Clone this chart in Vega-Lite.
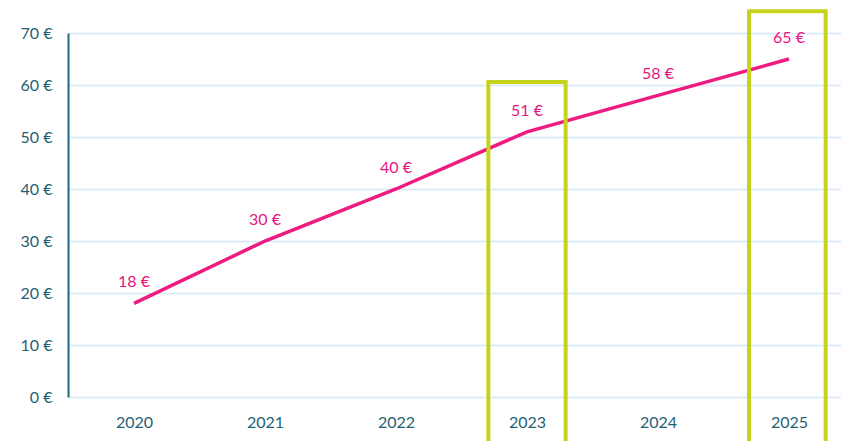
{
  "$schema": "https://vega.github.io/schema/vega-lite/v6.json",
  "autosize": "none",
  "width": 773,
  "height": 364,
  "padding": {"left": 68, "top": 33, "right": 0, "bottom": 44},
  "background": "white",
  "config": {"view": {"stroke": null}, "font": "Lato"},
  "datasets": {
    "prices": [
      {"year": 2020, "price": 18, "label": "18 €"},
      {"year": 2021, "price": 30, "label": "30 €"},
      {"year": 2022, "price": 40, "label": "40 €"},
      {"year": 2023, "price": 51, "label": "51 €"},
      {"year": 2024, "price": 58, "label": "58 €"},
      {"year": 2025, "price": 65, "label": "65 €"}
    ],
    "boxes": [
      {"x1": 2022.705, "x2": 2023.295, "top": 60.6, "bottom": -12},
      {"x1": 2024.695, "x2": 2025.28, "top": 74.2, "bottom": -12}
    ]
  },
  "layer": [
    {
      "data": {"name": "prices"},
      "mark": {"type": "line", "color": "#ee1c80", "strokeWidth": 3.5},
      "encoding": {
        "x": {
          "field": "year", "type": "quantitative",
          "scale": {"domain": [2019.496, 2025.397], "nice": false, "zero": false},
          "axis": {
            "values": [2020, 2021, 2022, 2023, 2024, 2025],
            "format": "d", "title": null, "domain": false, "ticks": false, "grid": false,
            "labelFontSize": 16, "labelColor": "#1f5f75", "labelPadding": 17, "labelFont": "Lato"
          }
        },
        "y": {
          "field": "price", "type": "quantitative",
          "scale": {"domain": [0, 70], "nice": false},
          "axis": {
            "values": [0, 10, 20, 30, 40, 50, 60, 70],
            "labelExpr": "datum.value + ' €'",
            "title": null, "ticks": false, "domainColor": "#22687c", "domainWidth": 2,
            "gridColor": "#d6e8f5", "gridWidth": 1.5, "gridOpacity": 1,
            "labelFontSize": 16, "labelColor": "#1f5f75", "labelPadding": 16, "labelFont": "Lato"
          }
        }
      }
    },
    {
      "data": {"name": "prices"},
      "mark": {"type": "text", "color": "#e8157f", "fontSize": 16, "dy": -21, "font": "Lato"},
      "encoding": {
        "x": {"field": "year", "type": "quantitative"},
        "y": {"field": "price", "type": "quantitative"},
        "text": {"field": "label"}
      }
    },
    {
      "data": {"name": "boxes"},
      "mark": {"type": "rect", "fill": null, "filled": false, "stroke": "#c5d41a", "strokeWidth": 4, "clip": false},
      "encoding": {
        "x": {"field": "x1", "type": "quantitative"},
        "x2": {"field": "x2"},
        "y": {"field": "top", "type": "quantitative"},
        "y2": {"field": "bottom"}
      }
    }
  ]
}
